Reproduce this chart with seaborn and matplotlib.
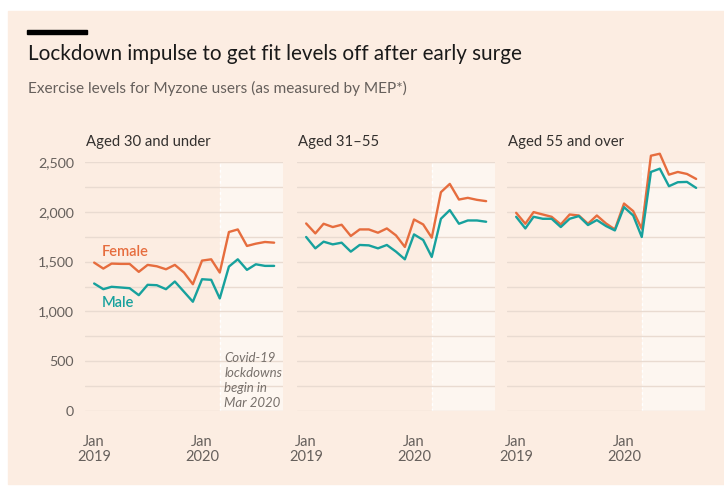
import pandas as pd
import matplotlib.pyplot as plt
from matplotlib.patches import Rectangle
from matplotlib.ticker import MultipleLocator, StrMethodFormatter
import seaborn as sns

# monthly MEP averages, Jan 2019 - Sep 2020
months = pd.date_range('2019-01-01', periods=21, freq='MS')
groups = ['Aged 30 and under', 'Aged 31\u201355', 'Aged 55 and over']

female_u30 = [1490, 1430, 1480, 1477, 1477, 1397, 1467, 1453, 1423, 1467, 1390,
              1273, 1510, 1523, 1390, 1797, 1823, 1657, 1680, 1697, 1690]
male_u30 = [1280, 1223, 1247, 1240, 1233, 1163, 1267, 1263, 1223, 1300, 1197,
            1097, 1323, 1317, 1130, 1450, 1523, 1417, 1473, 1457, 1457]
female_31_55 = [1883, 1783, 1880, 1847, 1870, 1757, 1823, 1823, 1790, 1833, 1763,
                1647, 1923, 1873, 1740, 2197, 2280, 2123, 2140, 2120, 2107]
male_31_55 = [1747, 1633, 1700, 1673, 1690, 1600, 1667, 1663, 1633, 1667, 1600,
              1523, 1773, 1717, 1547, 1930, 2017, 1880, 1913, 1913, 1900]
female_55 = [1990, 1880, 1997, 1973, 1950, 1873, 1973, 1963, 1880, 1963, 1883,
             1823, 2083, 2007, 1830, 2563, 2583, 2373, 2400, 2380, 2330]
male_55 = [1950, 1833, 1950, 1930, 1930, 1847, 1930, 1957, 1867, 1917, 1857,
           1813, 2047, 1963, 1747, 2400, 2433, 2257, 2297, 2300, 2240]

series = {
    groups[0]: {'Female': female_u30, 'Male': male_u30},
    groups[1]: {'Female': female_31_55, 'Male': male_31_55},
    groups[2]: {'Female': female_55, 'Male': male_55},
}
rows = []
for g, d in series.items():
    for sex, vals in d.items():
        for m, v in zip(months, vals):
            rows.append({'group': g, 'sex': sex, 'month': m, 'mep': v})
df = pd.DataFrame(rows)

lockdown = pd.Timestamp('2020-03-01')
x_ticks = pd.date_range('2019-01-01', '2020-10-01', freq='QS')
x_labels = [f'Jan\n{d.year}' if d.month == 1 else '' for d in x_ticks]

bg = '#FCEDE2'
shade = '#FDF6F0'
grid_c = '#E9DBD1'
text_grey = '#66605C'
colors = {'Female': '#E66D3E', 'Male': '#17A19D'}

sns.set_style('white')
plt.rcParams['font.family'] = ['Lato', 'DejaVu Sans']

W, H = 724, 486
fig = plt.figure(figsize=(W / 100, H / 100), dpi=100, facecolor='white')
fig.patches.append(Rectangle((8 / W, 2 / H), 1 - 8 / W, (484 - 11) / H,
                             transform=fig.transFigure, color=bg, zorder=-10))
fig.patches.append(Rectangle((27 / W, 1 - 34 / H), 60 / W, 4 / H,
                             transform=fig.transFigure, color='black', zorder=-5))
fig.text(28 / W, 1 - 54 / H, 'Lockdown impulse to get fit levels off after early surge',
         fontsize=14.85, color='#1A1A1A', va='center')
fig.text(28 / W, 1 - 88 / H, 'Exercise levels for Myzone users (as measured by MEP*)',
         fontsize=11.1, color=text_grey, va='center')

lefts = [85, 297, 507]
ax_w = 198
y0, y1 = 411, 162
for i, g in enumerate(groups):
    ax = fig.add_axes([lefts[i] / W, (H - y0) / H, ax_w / W, (y0 - y1) / H])
    ax.set_facecolor('none')
    ax.axvspan(lockdown, pd.Timestamp('2020-10-01'), color=shade, lw=0, zorder=0.2)
    ax.axvline(lockdown, color='white', lw=1, ls=(0, (2, 2)), zorder=0.3)
    sns.lineplot(data=df[df.group == g], x='month', y='mep', hue='sex',
                 palette=colors, ax=ax, legend=False, linewidth=1.7,
                 errorbar=None, clip_on=False, zorder=3)
    ax.set_xlim(pd.Timestamp('2018-12-01'), pd.Timestamp('2020-10-01'))
    ax.set_ylim(0, 2500)
    ax.yaxis.set_major_locator(MultipleLocator(500))
    ax.yaxis.set_minor_locator(MultipleLocator(250))
    ax.yaxis.set_major_formatter(StrMethodFormatter('{x:,.0f}'))
    ax.grid(which='both', axis='y', color=grid_c, lw=1, zorder=0.5)
    ax.set_axisbelow(True)
    for s in ax.spines.values():
        s.set_visible(False)
    ax.spines['bottom'].set_position(('outward', 5))
    ax.set_xticks(x_ticks)
    ax.set_xticklabels(x_labels)
    ax.tick_params(axis='x', length=6, width=0.8, color='#CFC4BC', direction='out',
                   labelsize=10.5, labelcolor=text_grey, pad=6)
    ax.tick_params(axis='y', which='both', length=0, labelsize=10.3,
                   labelcolor=text_grey, pad=8)
    if i > 0:
        ax.tick_params(axis='y', labelleft=False)
    for lab in ax.get_xticklabels():
        lab.set_linespacing(1.1)
        lab.set_multialignment('center')
    ax.set_xlabel('')
    ax.set_ylabel('')
    ax.text(0.005, (y1 - 142) / (y0 - y1) + 1, g, transform=ax.transAxes,
            fontsize=10.7, color='#33302E', va='center', ha='left')
    if i == 0:
        ax.text(months[0] + pd.Timedelta(days=26), 1600, 'Female', color=colors['Female'],
                fontsize=10.5, fontweight='semibold', va='center')
        ax.text(months[0] + pd.Timedelta(days=26), 1085, 'Male', color=colors['Male'],
                fontsize=10.5, fontweight='semibold', va='center')
        ax.text(lockdown + pd.Timedelta(days=16), 20,
                'Covid-19\nlockdowns\nbegin in\nMar 2020', color='#77706B',
                fontsize=9.5, style='italic', va='bottom', ha='left', linespacing=1.3)

fig.savefig('out.png', dpi=100, facecolor='white')
